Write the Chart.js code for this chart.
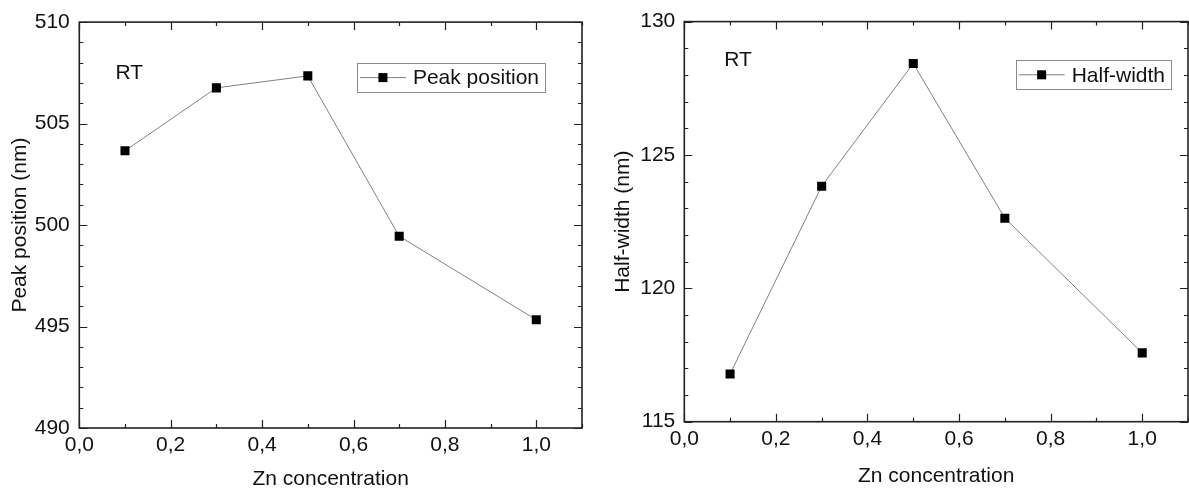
<!DOCTYPE html>
<html>
<head>
<meta charset="utf-8">
<script src="https://cdn.jsdelivr.net/npm/chart.js@4.4.1/dist/chart.umd.min.js"></script>
<style>
  html, body { margin: 0; padding: 0; background: #fff; overflow: hidden; width: 1189px; height: 492px; }
  .box { position: absolute; top: 0; height: 492px; }
  #b1 { left: 0; width: 594px; }
  #b2 { left: 594px; width: 610px; }
</style>
</head>
<body>
<div class="box" id="b1"><canvas id="c1"></canvas></div>
<div class="box" id="b2"><canvas id="c2"></canvas></div>
<script>
'use strict';

/* data */
const zn        = [0.1, 0.3, 0.5, 0.7, 1.0];
const peakPos   = [503.66, 506.76, 507.35, 499.45, 495.33];
const halfWidth = [116.79, 123.83, 128.43, 122.63, 117.58];

const xTicks    = [0, 0.2, 0.4, 0.6, 0.8, 1.0];
const peakTicks = [490, 495, 500, 505, 510];
const halfTicks = [115, 120, 125, 130];

const FONT = "'Liberation Sans', Arial, sans-serif";
Chart.defaults.font.family = FONT;
Chart.defaults.font.size = 21;
Chart.defaults.color = '#111';

const comma = v => v.toFixed(1).replace('.', ',');

/* frame with inward major/minor ticks, legend box and the RT note */
const framePlugin = {
  id: 'frame',
  afterDatasetsDraw(chart, args, o) {
    const { ctx, chartArea: a, scales: { x, y } } = chart;
    ctx.save();

    // ticks
    ctx.strokeStyle = '#222';
    ctx.lineWidth = 1.2;
    ctx.beginPath();
    const nx = Math.round((x.max - x.min) / o.xMinor);
    for (let i = 0; i <= nx; i++) {
      const v = x.min + i * o.xMinor;
      const px = Math.round(x.getPixelForValue(v)) + 0.5;
      const len = (i % o.xEvery === 0) ? 8 : 4;
      ctx.moveTo(px, a.bottom); ctx.lineTo(px, a.bottom - len);
      ctx.moveTo(px, a.top);    ctx.lineTo(px, a.top + len);
    }
    const ny = Math.round((y.max - y.min) / o.yMinor);
    for (let i = 0; i <= ny; i++) {
      const v = y.min + i * o.yMinor;
      const py = Math.round(y.getPixelForValue(v)) + 0.5;
      const len = (i % o.yEvery === 0) ? 8 : 4;
      ctx.moveTo(a.left, py);  ctx.lineTo(a.left + len, py);
      ctx.moveTo(a.right, py); ctx.lineTo(a.right - len, py);
    }
    ctx.stroke();

    // frame
    ctx.lineWidth = 1.6;
    ctx.strokeStyle = '#222';
    ctx.strokeRect(a.left, a.top, a.right - a.left, a.bottom - a.top);

    // RT note
    ctx.font = '21px ' + FONT;
    ctx.fillStyle = '#111';
    ctx.textAlign = 'left';
    ctx.textBaseline = 'middle';
    ctx.fillText(o.note.text, x.getPixelForValue(o.note.x), y.getPixelForValue(o.note.y));

    // legend
    const ds = chart.data.datasets[0];
    const tw = ctx.measureText(ds.label).width;
    const w = 3 + 46 + 7 + tw + 6;
    const h = 29;
    const bx = a.right - o.legend.right - w;
    const by = a.top + o.legend.top;
    ctx.fillStyle = '#fff';
    ctx.fillRect(bx, by, w, h);
    ctx.strokeStyle = '#8a8a8a';
    ctx.lineWidth = 1;
    ctx.strokeRect(Math.round(bx) + 0.5, Math.round(by) + 0.5, Math.round(w), h);
    const cy = by + h / 2;
    ctx.strokeStyle = ds.borderColor;
    ctx.beginPath();
    ctx.moveTo(bx + 3, cy); ctx.lineTo(bx + 49, cy);
    ctx.stroke();
    ctx.fillStyle = ds.pointBackgroundColor;
    ctx.fillRect(bx + 26 - 4.5, cy - 4.5, 9, 9);
    ctx.fillStyle = '#111';
    ctx.fillText(ds.label, bx + 56, cy + 1);

    ctx.restore();
  },
};

function makeChart(id, cfg) {
  return new Chart(document.getElementById(id).getContext('2d'), {
    type: 'scatter',
    data: {
      datasets: [{
        label: cfg.label,
        data: zn.map((v, i) => ({ x: v, y: cfg.values[i] })),
        showLine: true,
        borderColor: '#808080',
        borderWidth: 1,
        pointStyle: 'rect',
        pointRadius: 6.4,
        pointHoverRadius: 6.4,
        pointBackgroundColor: '#000',
        pointBorderColor: '#000',
        pointBorderWidth: 0,
      }],
    },
    options: {
      responsive: true, maintainAspectRatio: false,
      animation: false,
      layout: { padding: { left: 0, top: cfg.top, right: cfg.right, bottom: 0 } },
      plugins: {
        legend: { display: false },
        tooltip: { enabled: false },
        frame: {
          xMinor: 0.1, xEvery: 2,
          yMinor: 1, yEvery: 5,
          note: cfg.note,
          legend: cfg.legend,
        },
      },
      scales: {
        x: {
          type: 'linear', min: 0, max: 1.1,
          grid: { display: false, drawTicks: false },
          border: { display: false },
          afterBuildTicks: s => { s.ticks = xTicks.map(v => ({ value: v })); },
          afterFit: s => { s.height = cfg.xH; },
          ticks: { padding: 5, maxRotation: 0, autoSkip: false, callback: v => comma(v) },
          title: { display: true, text: 'Zn concentration', padding: { top: 0, bottom: cfg.xTitlePad } },
        },
        y: {
          min: cfg.yTicks[0], max: cfg.yTicks[cfg.yTicks.length - 1],
          grid: { display: false, drawTicks: false },
          border: { display: false },
          afterBuildTicks: s => { s.ticks = cfg.yTicks.map(v => ({ value: v })); },
          afterFit: s => { s.width = cfg.yW; },
          ticks: { padding: cfg.yPad, autoSkip: false, callback: v => String(v) },
          title: { display: true, text: cfg.yTitle, padding: { top: cfg.yTitlePad, bottom: 0 } },
        },
      },
    },
    plugins: [framePlugin],
  });
}

makeChart('c1', {
  label: 'Peak position',
  values: peakPos,
  yTicks: peakTicks,
  yTitle: 'Peak position (nm)',
  top: 20.7, right: 12, xH: 64, yW: 79.3,
  yPad: 9.5, yTitlePad: 8, xTitlePad: 0,
  note: { text: 'RT', x: 0.079, y: 507.5 },
  legend: { right: 37, top: 41 },
});

makeChart('c2', {
  label: 'Half-width',
  values: halfWidth,
  yTicks: halfTicks,
  yTitle: 'Half-width (nm)',
  top: 14, right: 16, xH: 70.3, yW: 90.3,
  yPad: 9, yTitlePad: 17, xTitlePad: 3,
  note: { text: 'RT', x: 0.087, y: 128.55 },
  legend: { right: 17, top: 38.7 },
});
</script>
</body>
</html>
